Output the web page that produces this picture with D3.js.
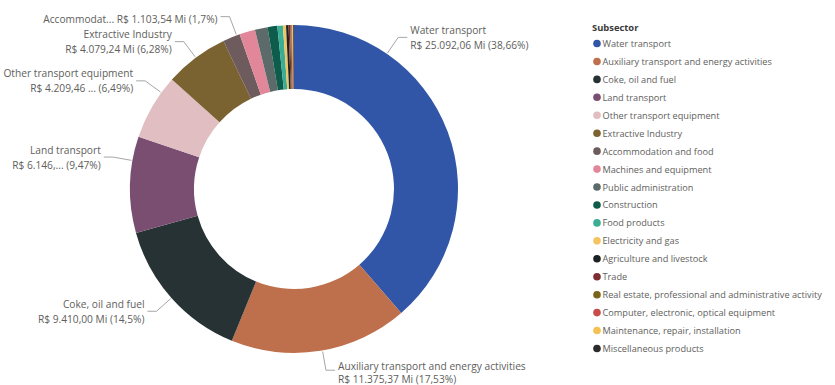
<!DOCTYPE html>
<html>
<head>
<meta charset="utf-8">
<script src="https://cdn.jsdelivr.net/npm/d3@7"></script>
<style>
  html, body { margin: 0; padding: 0; background: #ffffff; }
  svg { display: block; font-family: "Segoe UI", "Open Sans", "Noto Sans", sans-serif; }
</style>
</head>
<body>
<svg id="chart" width="835" height="385"></svg>
<script>
// Subsector totals (R$ millions)
const subsectors = [
  "Water transport",
  "Auxiliary transport and energy activities",
  "Coke, oil and fuel",
  "Land transport",
  "Other transport equipment",
  "Extractive Industry",
  "Accommodation and food",
  "Machines and equipment",
  "Public administration",
  "Construction",
  "Food products",
  "Electricity and gas",
  "Agriculture and livestock",
  "Trade",
  "Real estate, professional and administrative activity",
  "Computer, electronic, optical equipment",
  "Maintenance, repair, installation",
  "Miscellaneous products"
];
const values = [
  25092.06, 11375.37, 9410.00, 6146.00, 4209.46, 4079.24, 1103.54,
  1006.2, 811.4, 616.6, 357.0, 194.7, 162.3, 97.4, 77.9, 64.9, 52.0, 50.4
];
const colors = [
  "#3256A7", "#BE6F4C", "#263234", "#7A4E71", "#E0BEC1", "#7B6331",
  "#6D5B5D", "#E2879A", "#5C6A6A", "#0E5D4C", "#3AAD95", "#F2C462",
  "#1E2123", "#7E2D31", "#7A6419", "#C84C49", "#F4C252", "#2B2B2B"
];
const legendTitle = "Subsector";

// Which slices carry an outside label, and how their leader lines are placed
const labelLayout = {
  "Water transport":                           { angle: 34.5 },
  "Auxiliary transport and energy activities": { angle: 170, shift: 2.5, gap: 13 },
  "Coke, oil and fuel":                        {},
  "Land transport":                            { angle: 280, valueMax: 9 },
  "Other transport equipment":                 { angle: 306, valueMax: 12 },
  "Extractive Industry":                       {},
  "Accommodation and food":                    { angle: 339.5, nameMax: 10, oneLine: true }
};

const W = 835, H = 385;
const cx = 294, cy = 189;
const outerR = 164, innerR = 100;

const svg = d3.select("#chart");
const total = d3.sum(values);
const data = subsectors.map((name, i) => ({ name, value: values[i], color: colors[i] }));

const pie = d3.pie().value(d => d.value).sort(null).startAngle(0).endAngle(2 * Math.PI);
const arc = d3.arc().innerRadius(innerR).outerRadius(outerR);
const arcs = pie(data);

const g = svg.append("g").attr("transform", `translate(${cx},${cy})`);
g.selectAll("path.slice")
  .data(arcs)
  .join("path")
  .attr("class", "slice")
  .attr("d", arc)
  .attr("fill", d => d.data.color);

// pt-BR number formatting
const br = d3.formatLocale({ decimal: ",", thousands: ".", grouping: [3], currency: ["R$ ", ""] });
const fmtMoney = br.format(",.2f");
function fmtPct(v) {
  let s = d3.format(".2f")(v * 100);
  s = s.replace(/0+$/, "").replace(/\.$/, "");
  return s.replace(".", ",") + "%";
}
function trunc(s, n) { return (n && s.length > n) ? s.slice(0, n) + "..." : s; }

const polar = (deg, r) => [Math.sin(deg * Math.PI / 180) * r, -Math.cos(deg * Math.PI / 180) * r];

const lblG = g.append("g");
arcs.forEach(a => {
  const L = labelLayout[a.data.name];
  if (!L) return;
  const mid = (a.startAngle + a.endAngle) / 2 * 180 / Math.PI;
  const ang = L.angle !== undefined ? L.angle : mid;
  const right = ang < 180;
  const p0 = polar(ang, outerR + 1);
  const p1 = polar(ang, outerR + 20);
  const p2 = [p1[0] + (right ? 9 : -9), p1[1]];
  lblG.append("polyline")
    .attr("points", [p0, p1, p2].map(p => p.join(",")).join(" "))
    .attr("fill", "none")
    .attr("stroke", "#A6A6A6")
    .attr("stroke-width", 1);

  const name = trunc(a.data.name, L.nameMax);
  const valueStr = trunc("R$ " + fmtMoney(a.data.value) + " Mi", L.valueMax) + " (" + fmtPct(a.data.value / total) + ")";
  const tx = p2[0] + (right ? 3 : -3);
  const t = lblG.append("text")
    .attr("x", tx)
    .attr("text-anchor", right ? "start" : "end")
    .attr("fill", "#605E5C")
    .attr("font-size", 10.2)
    .attr("dominant-baseline", "central");
  const shift = L.shift || 0;
  const gap = (L.gap || 15) / 2;
  if (L.oneLine) {
    t.attr("y", p2[1] + 2).text(name + " " + valueStr);
  } else {
    t.append("tspan").attr("x", tx).attr("y", p2[1] - gap + shift).text(name);
    t.append("tspan").attr("x", tx).attr("y", p2[1] + gap + shift).text(valueStr);
  }
});

// Legend
const lg = svg.append("g").attr("transform", "translate(592,0)");
lg.append("text")
  .attr("x", 0).attr("y", 27.5)
  .attr("dominant-baseline", "central")
  .attr("font-size", 9.4)
  .attr("font-weight", "bold")
  .attr("fill", "#3A3A3A")
  .text(legendTitle);
const ly = d3.scalePoint().domain(subsectors).range([43.5, 348.5]);
const items = lg.selectAll("g.item").data(data).join("g")
  .attr("class", "item")
  .attr("transform", d => `translate(0,${ly(d.name)})`);
items.append("circle").attr("cx", 5).attr("cy", 0).attr("r", 3.8).attr("fill", d => d.color);
items.append("text")
  .attr("x", 10.5).attr("y", 0)
  .attr("dominant-baseline", "central")
  .attr("font-size", 9.2)
  .attr("fill", "#605E5C")
  .text(d => d.name);
</script>
</body>
</html>
